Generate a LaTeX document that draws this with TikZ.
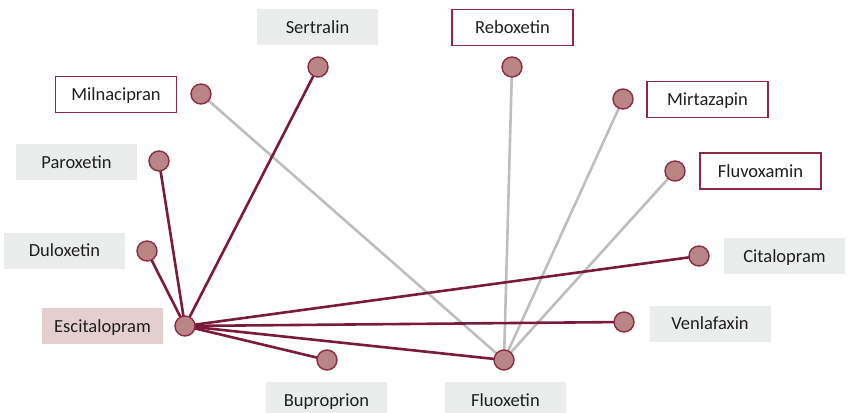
\documentclass[tikz,border=0pt]{standalone}
\usepackage{fontspec}
\setmainfont{Carlito}
\definecolor{wine}{HTML}{7A1B3B}
\definecolor{dotfill}{HTML}{B98585}
\definecolor{dotline}{HTML}{8C2A45}
\definecolor{boxgray}{HTML}{EBEDED}
\definecolor{boxpink}{HTML}{E3CFCF}
\definecolor{edgegray}{HTML}{BEBEBE}
\tikzset{
  lbl/.style={minimum width=121pt, minimum height=36pt, inner sep=0pt, text height=13pt, text depth=1pt, font=\fontsize{18.5}{20}\selectfont, text=black!88},
  graybox/.style={lbl, fill=boxgray},
  framebox/.style={lbl, fill=white, draw=dotline, line width=1.3pt},
  pinkbox/.style={lbl, fill=boxpink},
  dot/.style={circle, minimum size=20pt, inner sep=0pt, fill=dotfill, draw=dotline, line width=1.4pt},
  redge/.style={draw=wine, line width=2.6pt},
  gedge/.style={draw=edgegray, line width=2.6pt}
}
\begin{document}
\begin{tikzpicture}[x=1pt,y=-1pt]
\useasboundingbox (0,0) rectangle (848,412);
% labels
\node[graybox] (lSer) at (317.5,27.5) {Sertralin};
\node[framebox] (lMil) at (116,94.5) {Milnacipran};
\node[graybox] (lPar) at (76.5,162) {Paroxetin};
\node[graybox] (lDul) at (64.5,250.5) {Duloxetin};
\node[pinkbox] (lEsc) at (102.5,326) {Escitalopram};
\node[framebox] (lReb) at (512.5,27.5) {Reboxetin};
\node[framebox] (lMir) at (707.5,99.5) {Mirtazapin};
\node[framebox] (lFlv) at (760.5,171) {Fluvoxamin};
\node[graybox] (lCit) at (784.5,256) {Citalopram};
\node[graybox] (lVen) at (710,323.5) {Venlafaxin};
\node[graybox] (lBup) at (326.5,400) {Buproprion};
\node[graybox] (lFlu) at (505.5,400) {Fluoxetin};
% dot coordinates
\coordinate (Esc) at (185,326);
\coordinate (Ser) at (318,67);
\coordinate (Mil) at (201,94);
\coordinate (Par) at (159,161);
\coordinate (Dul) at (147,251);
\coordinate (Reb) at (512,67);
\coordinate (Mir) at (623,99);
\coordinate (Flv) at (675,171);
\coordinate (Cit) at (699,256);
\coordinate (Ven) at (624,322);
\coordinate (Bup) at (327,360);
\coordinate (Flu) at (504,360);
% gray edges
\draw[gedge] (Flu) -- (Mil);
\draw[gedge] (Flu) -- (Reb);
\draw[gedge] (Flu) -- (Mir);
\draw[gedge] (Flu) -- (Flv);
% red edges
\draw[redge] (Esc) -- (Ser);
\draw[redge] (Esc) -- (Par);
\draw[redge] (Esc) -- (Dul);
\draw[redge] (Esc) -- (Cit);
\draw[redge] (Esc) -- (Ven);
\draw[redge] (Esc) -- (Flu);
\draw[redge] (Esc) -- (Bup);
% dots
\foreach \n in {Esc,Ser,Mil,Par,Dul,Reb,Mir,Flv,Cit,Ven,Bup,Flu}
  \node[dot] (d\n) at (\n) {};
\end{tikzpicture}
\end{document}
